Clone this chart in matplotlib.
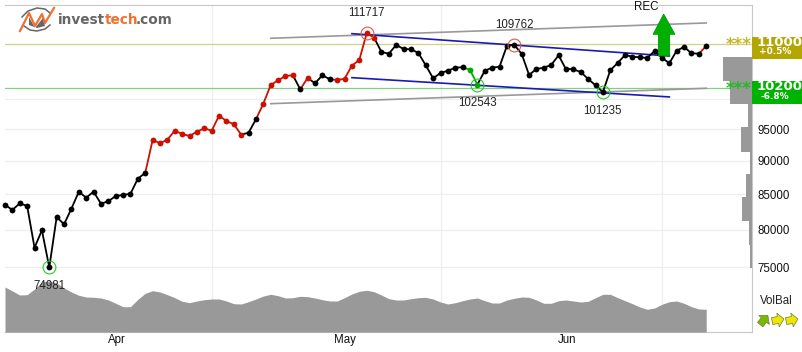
import matplotlib
matplotlib.use("Agg")
import numpy as np
import matplotlib.pyplot as plt
from matplotlib.patches import Polygon
from matplotlib.ticker import NullLocator

plt.rcParams['font.family'] = ['Liberation Sans', 'DejaVu Sans']

prices = [83480, 82730, 83680, 83300, 77560, 79900, 74981, 81740, 80730, 82920,
          85360, 84490, 85360, 83630, 83970, 84740, 84880, 85070, 87290, 88150,
          93270, 92740, 93320, 94760, 94230, 93910, 94600, 95150, 94760, 97230,
          96350, 95810, 94120, 94440, 96630, 99250, 102480, 103300, 104070, 104200,
          101720, 103710, 102780, 104200, 103480, 103360, 103580, 105920, 106960, 111960,
          111130, 108440, 108120, 109750, 108990, 108940, 108260, 105990, 103660, 104600,
          105010, 105560, 105640, 105140, 102543, 105010, 105560, 105740, 109610, 109762,
          108070, 104250, 105330, 105560, 106050, 107820, 105260, 105260, 104780, 103540,
          102420, 101235, 105090, 106410, 107880, 107570, 107450, 107330, 108620, 107380,
          106360, 108680, 109370, 108200, 108120, 109550]

# k black, r red, g green, one letter per day
dot_signal = "k" * 20 + "r" * 13 + "kk" + "r" * 5 + "k" + "r" + "kkk" + "r" * 6 + "k" * 12 + "gg" + "k" * 31
line_signal = dot_signal[:95] + "r"

volume = [45, 41, 37, 37.3, 43, 50, 51, 49, 44, 40, 36.7, 35, 34.7, 34, 32, 28.7, 25.3, 25.3,
          32.7, 38.7, 41.3, 40, 37.3, 34.3, 30.7, 29.3, 31, 32.3, 33, 33, 31, 28.3, 28, 30.3,
          33, 36, 37.7, 36.3, 34, 34.3, 35.7, 35.3, 34, 32.3, 31, 31, 34.3, 38, 40.7, 41.7,
          40.3, 37, 33.3, 32, 32, 33.3, 34.3, 34.7, 33, 30, 28, 29.3, 31.3, 33, 34, 31.3,
          29, 29, 32, 33.7, 35, 34.7, 32, 28.7, 28.7, 31.3, 32, 31, 30, 30.7, 34.3, 37.7,
          37.7, 34.3, 31.3, 28.3, 25, 22.7, 24, 27.7, 30.3, 31, 28.7, 25.3, 23, 22.7]

profile_edges = [74870, 77920, 81150, 84550, 87950, 91410, 95320, 99150, 103190, 107450]
profile_sizes = [2, 3, 10, 6, 2, 11, 4, 22, 28.7]

y_ticks = [75000, 80000, 85000, 90000, 95000, 100000]
y_labels = ['75000', '80000', '85000', '90000', '95000', '']
grid_days = [28, 59, 89]
month_days = [15.2, 46.1, 76.2]
month_labels = ['Apr', 'May', 'Jun']

# (day0, price0, day1, price1)
gray_trends = [(36, 111010, 95, 113960), (36, 99250, 95, 101900)]
blue_trends = [(47, 111890, 90, 107690), (47, 103770, 90, 100400)]

high_days = [49, 69]
low_days = [6, 64, 81]
extreme_labels = [(49, '111717', 20), (69, '109762', 20), (64, '102543', -18),
                  (81, '101235', -19), (6, '74981', -19)]

COL = {'k': 'black', 'r': '#cc1100', 'g': '#00aa00'}

fig = plt.figure(figsize=(8.02, 3.52), dpi=100)
rect = [5 / 802, 1 - 332 / 352, 747 / 802, 327.5 / 352]

ax = fig.add_axes(rect, zorder=1)
ax.set_yscale('log')
ax.set_xlim(0, 101.2)
ax.set_ylim(67130, 117620)
for s in ['top', 'right', 'bottom']:
    ax.spines[s].set_color('#c8c8c8')
ax.spines['left'].set_visible(False)
ax.yaxis.tick_right()
ax.yaxis.set_minor_locator(NullLocator())
ax.set_yticks(y_ticks, y_labels, fontsize=8.3, color='#111111')
ax.set_xticks(grid_days, [''] * len(grid_days))
ax.set_xticks(month_days, month_labels, minor=True, fontsize=8.3, color='#111111')
ax.tick_params(which='both', length=0)
ax.tick_params(axis='y', pad=3.6)
ax.tick_params(axis='x', which='minor', pad=1.5)
ax.grid(True, which='major', color='#eeeeee', lw=0.9)
ax.set_axisbelow(True)

ax.axhline(110000, color='#d0d08c', lw=0.9, zorder=1.5)
ax.axhline(102000, color='#85cf85', lw=0.9, zorder=1.5)

for x0, y0, x1, y1 in gray_trends:
    ax.plot([x0, x1], [y0, y1], color='#999999', lw=1.2, zorder=2)
for x0, y0, x1, y1 in blue_trends:
    ax.plot([x0, x1], [y0, y1], color='#1a1ab4', lw=1.2, zorder=3)

days = list(range(len(prices)))
for i in range(1, len(prices)):
    ax.plot(days[i - 1:i + 1], prices[i - 1:i + 1], color=COL[line_signal[i]], lw=1.3,
            zorder=4, clip_on=False)
for i in days:
    ax.plot(days[i], prices[i], 'o', ms=4.2, mew=0, color=COL[dot_signal[i]], zorder=5, clip_on=False)

ax.plot(high_days, [prices[i] for i in high_days], 'o', ms=9.2, mfc='none', mec='#e0584c', mew=0.8, zorder=6)
ax.plot(low_days, [prices[i] for i in low_days], 'o', ms=9.2, mfc='none', mec='#22cc22', mew=0.8, zorder=6)

# volume balance area along the bottom, heights in own units
ax_vol = fig.add_axes(rect, zorder=2)
ax_vol.patch.set_visible(False)
ax_vol.axis('off')
ax_vol.set_xlim(0, 101.2)
ax_vol.set_ylim(0, 327.5)
ax_vol.fill_between(days, volume, 0, color='#999999', lw=0)

# volume per price band on the right
ax_prof = fig.add_axes(rect, zorder=2)
ax_prof.patch.set_visible(False)
ax_prof.axis('off')
ax_prof.set_yscale('log')
ax_prof.set_ylim(ax.get_ylim())
ax_prof.set_xlim(747, 0)
for i in range(len(profile_sizes)):
    ax_prof.barh(profile_edges[i], profile_sizes[i], profile_edges[i + 1] - profile_edges[i],
                 align='edge', color='#999999', lw=0)

# everything placed in picture pixels goes here
over = fig.add_axes([0, 0, 1, 1], zorder=3)
over.patch.set_visible(False)
over.axis('off')
over.set_xlim(0, 802)
over.set_ylim(352, 0)

for d, txt, off in extreme_labels:
    over.annotate(txt, xy=(d, prices[d]), xycoords=ax.transData, xytext=(0, off * 0.72),
                  textcoords='offset points', ha='center', va='center', fontsize=8.3, color='#222222')

over.text(646, 7.5, 'REC', ha='center', va='center', fontsize=8.3, color='#111111')
over.add_patch(Polygon([(663.7, 14), (675, 34.3), (669.7, 34.3), (669.7, 56), (658.3, 56),
                        (658.3, 34.3), (653, 34.3)], fc='#00b000', ec='#008a00', lw=0.5))

for top, bot, col, star, price, pct in [(36.7, 59.3, '#b3a600', '#c8b820', '110000', '+0.5%'),
                                        (81, 103.7, '#00b300', '#22bb22', '102000', '-6.8%')]:
    over.fill_between([751.7, 802], top, bot, color=col, lw=0)
    over.text(757, top + 5.5, price, color='white', fontweight='bold', family='DejaVu Sans',
              fontsize=9.5, ha='left', va='center')
    over.text(775, top + 15.3, pct, color='white', fontweight='bold', family='DejaVu Sans',
              fontsize=6.5, ha='center', va='center')
    over.text(739, top + 8, '***', color=star, fontweight='bold', family='DejaVu Sans',
              fontsize=12, ha='center', va='center')

over.text(776.5, 300.7, 'VolBal', ha='center', va='center', fontsize=8.3, color='#222222')

# volume balance arrows: centre x, angle in degrees, fill
arrow_shape = np.array([[-6, -3.5], [0, -3.5], [0, -7], [6, 0], [0, 7], [0, 3.5], [-6, 3.5]])
for cx, angle, col in [(764, 50, '#77bb00'), (778, 10, '#e8e800'), (792, 10, '#e8e800')]:
    a = np.deg2rad(angle)
    xs = cx + arrow_shape[:, 0] * np.cos(a) + arrow_shape[:, 1] * np.sin(a)
    ys = 320 - arrow_shape[:, 0] * np.sin(a) + arrow_shape[:, 1] * np.cos(a)
    over.add_patch(Polygon(np.column_stack([xs, ys]), fc=col, ec='#777744', lw=0.5))

# logo
over.plot([22, 28, 37, 45, 50], [17, 11, 8, 9, 13], color='#666666', lw=1.1)
over.plot([24, 30, 37, 45, 50], [26, 30, 31, 29, 25], color='#666666', lw=1.1)
over.add_patch(Polygon([(29, 17), (35, 28), (43, 18), (45, 26), (37, 28), (29, 25)], fc='#666666', lw=0))
over.plot([20, 29, 35, 42, 45, 54], [31, 13, 26, 14, 23, 8], color='#f07030', lw=1.6)
over.text(58, 20, 'invest', color='#666666', fontweight='bold', fontsize=9.8, family='DejaVu Sans', va='center')
over.text(105, 20, 'tech', color='#f07030', fontweight='bold', fontsize=9.8, family='DejaVu Sans', va='center')
over.text(136, 20, '.com', color='#666666', fontweight='bold', fontsize=9.8, family='DejaVu Sans', va='center')

fig.savefig('out.png', dpi=100)
